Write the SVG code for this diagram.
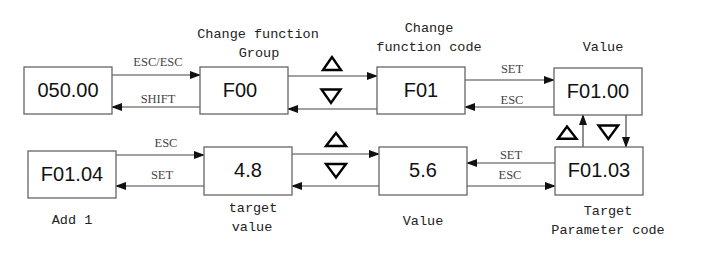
<svg xmlns="http://www.w3.org/2000/svg" width="711" height="254" viewBox="0 0 711 254">
<style>
.box{fill:#fff;stroke:#666;stroke-width:1.3}
.bt{font-family:"Liberation Sans",Arial,sans-serif;font-size:20px;fill:#111;text-anchor:middle}
.cap{font-family:"Liberation Mono","Courier New",monospace;font-size:13.5px;fill:#222;text-anchor:middle}
.lab{font-family:"Liberation Serif","Times New Roman",serif;font-size:12.5px;fill:#444;text-anchor:middle}
.ln{stroke:#444;stroke-width:1.2;fill:none;marker-end:url(#ah)}
.tri{fill:none;stroke:#000;stroke-width:2.4;stroke-linejoin:miter}
</style>
<defs>
<marker id="ah" markerWidth="11" markerHeight="8" refX="10" refY="4" orient="auto" markerUnits="userSpaceOnUse">
<path d="M0,0 L11,4 L0,8 Z" fill="#111"/>
</marker>
</defs>
<rect width="711" height="254" fill="#fff"/>
<g id="connectors">
<line class="ln" x1="112" y1="75" x2="200" y2="75"/>
<line class="ln" x1="200" y1="107" x2="112" y2="107"/>
<line class="ln" x1="288" y1="76" x2="377" y2="76"/>
<line class="ln" x1="377" y1="109" x2="288" y2="109"/>
<line class="ln" x1="465" y1="80" x2="554" y2="80"/>
<line class="ln" x1="554" y1="107" x2="465" y2="107"/>
<line class="ln" x1="583" y1="147" x2="583" y2="115"/>
<line class="ln" x1="626" y1="115" x2="626" y2="147"/>
<line class="ln" x1="555" y1="163" x2="467" y2="163"/>
<line class="ln" x1="467" y1="186" x2="555" y2="186"/>
<line class="ln" x1="292" y1="154" x2="379" y2="154"/>
<line class="ln" x1="379" y1="186" x2="292" y2="186"/>
<line class="ln" x1="116" y1="155" x2="204" y2="155"/>
<line class="ln" x1="204" y1="186" x2="116" y2="186"/>
<text class="lab" x="158" y="66">ESC/ESC</text>
<text class="lab" x="158" y="103">SHIFT</text>
<text class="lab" x="512" y="73">SET</text>
<text class="lab" x="512" y="103.5">ESC</text>
<text class="lab" x="166" y="147">ESC</text>
<text class="lab" x="162" y="179">SET</text>
<text class="lab" x="511" y="159">SET</text>
<text class="lab" x="510" y="179">ESC</text>
<polygon class="tri" points="332,57 323,70 341,70"/>
<polygon class="tri" points="321.5,89.5 340.5,89.5 331,103"/>
<polygon class="tri" points="336,133 326,146 346,146"/>
<polygon class="tri" points="326,164 346,164 336,177.5"/>
<polygon class="tri" points="567,126.5 558,138.8 576.5,138.8"/>
<polygon class="tri" points="598.5,125.5 618.2,125.5 608.3,139"/>
</g>
<g id="n1"><rect class="box" x="24" y="67" width="88" height="47"/><text class="bt" x="68" y="97">050.00</text></g>
<g id="n2"><rect class="box" x="200" y="67" width="88" height="47"/><text class="bt" x="240" y="97">F00</text>
<text class="cap" x="258" y="37.5">Change function</text><text class="cap" x="259" y="56.5">Group</text></g>
<g id="n3"><rect class="box" x="377" y="67" width="88" height="47"/><text class="bt" x="421" y="97">F01</text>
<text class="cap" x="429" y="31.5">Change</text><text class="cap" x="429" y="51">function code</text></g>
<g id="n4"><rect class="box" x="554" y="68" width="88" height="47"/><text class="bt" x="598" y="97.5">F01.00</text>
<text class="cap" x="603" y="50.5">Value</text></g>
<g id="n5"><rect class="box" x="555" y="147" width="88" height="48"/><text class="bt" x="599" y="177">F01.03</text>
<text class="cap" x="608" y="215">Target</text><text class="cap" x="608" y="234">Parameter code</text></g>
<g id="n6"><rect class="box" x="379" y="147" width="88" height="48"/><text class="bt" x="423" y="177">5.6</text>
<text class="cap" x="423" y="225">Value</text></g>
<g id="n7"><rect class="box" x="204" y="147" width="88" height="48"/><text class="bt" x="248" y="177">4.8</text>
<text class="cap" x="253" y="212">target</text><text class="cap" x="252" y="231">value</text></g>
<g id="n8"><rect class="box" x="28" y="151" width="88" height="47"/><text class="bt" x="72" y="181">F01.04</text>
<text class="cap" x="72" y="223.5">Add 1</text></g>
</svg>
